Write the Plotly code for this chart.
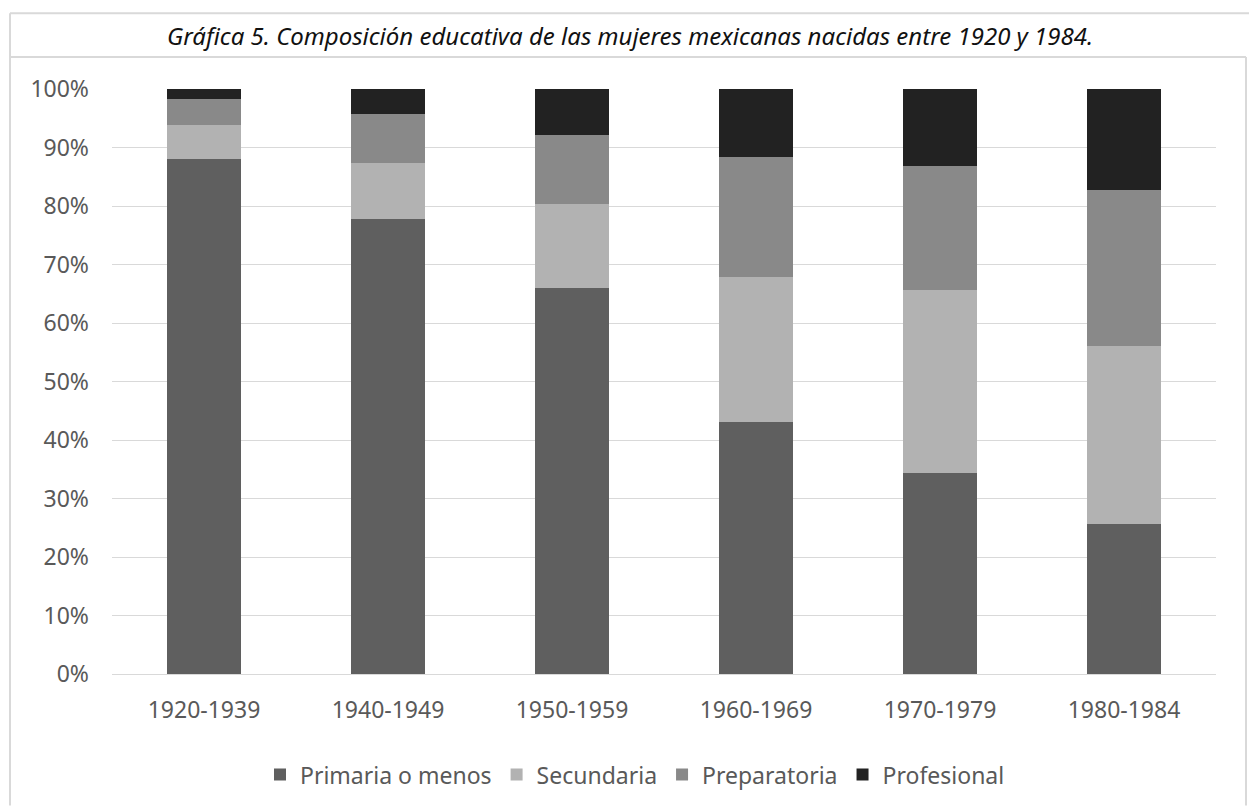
import plotly.graph_objects as go

categories = ["1920-1939", "1940-1949", "1950-1959", "1960-1969", "1970-1979", "1980-1984"]
primaria = [88.1, 77.8, 66.0, 43.1, 34.4, 25.7]
secundaria = [5.8, 9.5, 14.4, 24.8, 31.2, 30.4]
preparatoria = [4.4, 8.4, 11.8, 20.5, 21.3, 26.6]
profesional = [1.7, 4.3, 7.8, 11.6, 13.1, 17.3]
series_names = ["Primaria o menos", "Secundaria", "Preparatoria", "Profesional"]
series_colors = ["#5f5f5f", "#b2b2b2", "#898989", "#222222"]
y_ticks = list(range(0, 101, 10))
y_tick_labels = [f"{v}%" for v in y_ticks]
title_text = "Gráfica 5. Composición educativa de las mujeres mexicanas nacidas entre 1920 y 1984."

W, H = 1249, 808
L, R, T, B = 112, 33, 89, 132
PW, PH = W - L - R, H - T - B

def px(x):
    return (x - L) / PW

def py(y):
    return (H - B - y) / PH

fig = go.Figure()
for name, vals, col in zip(series_names, [primaria, secundaria, preparatoria, profesional], series_colors):
    fig.add_trace(go.Bar(x=categories, y=vals, name=name, marker=dict(color=col, line=dict(width=0))))

border = "#d9d9d9"
shapes = [
    dict(type="line", xref="paper", yref="paper", x0=px(10), x1=px(10), y0=py(13), y1=py(808), line=dict(color=border, width=2)),
    dict(type="line", xref="paper", yref="paper", x0=px(10), x1=px(1249), y0=py(13), y1=py(13), line=dict(color=border, width=2)),
    dict(type="line", xref="paper", yref="paper", x0=px(10), x1=px(1246), y0=py(57), y1=py(57), line=dict(color=border, width=2)),
    dict(type="line", xref="paper", yref="paper", x0=px(1246), x1=px(1246), y0=py(57), y1=py(808), line=dict(color=border, width=2)),
]

fig.update_layout(
    width=W, height=H,
    margin=dict(l=L, r=R, t=T, b=B, pad=0),
    barmode="stack",
    bargap=0.598,
    plot_bgcolor="white",
    paper_bgcolor="white",
    font=dict(family="Noto Sans", color="#595959", size=23),
    shapes=shapes,
    annotations=[dict(
        text=f"<i>{title_text}</i>", xref="paper", yref="paper",
        x=px(630), y=py(35), xanchor="center", yanchor="middle", showarrow=False,
        font=dict(family="Noto Sans", size=24, color="#111111"),
    )],
    legend=dict(
        orientation="h", x=px(635), xanchor="center", y=py(777), yanchor="middle",
        font=dict(size=23, color="#595959"), traceorder="normal",
    ),
    xaxis=dict(
        showgrid=False, showline=True, linecolor=border, linewidth=1,
        ticks="", tickfont=dict(size=23, color="#595959"), ticklabelstandoff=15,
    ),
    yaxis=dict(
        range=[0, 100], tickvals=y_ticks, ticktext=y_tick_labels,
        showgrid=True, gridcolor=border, gridwidth=1, zeroline=False, showline=False,
        ticks="", tickfont=dict(size=23, color="#595959"), ticklabelstandoff=22,
    ),
)

fig.write_html("out.html", config={"displayModeBar": False},
               post_script="document.body.style.margin='0px';")
